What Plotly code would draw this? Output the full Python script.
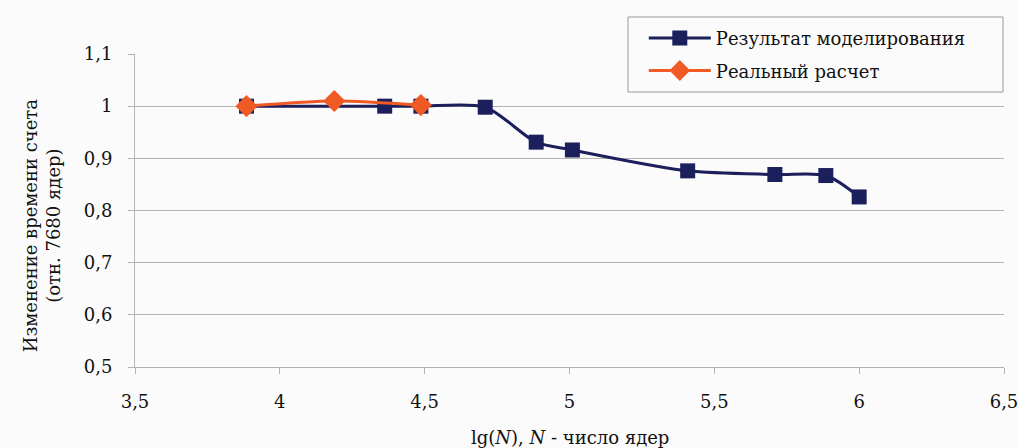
import plotly.graph_objects as go

# Data
model_x = [3.885, 4.362, 4.487, 4.709, 4.885, 5.010, 5.408, 5.709, 5.885, 6.000]
model_y = [1.000, 1.000, 1.000, 0.998, 0.931, 0.916, 0.876, 0.869, 0.867, 0.826]
real_x = [3.885, 4.188, 4.487]
real_y = [1.000, 1.010, 1.002]

model_name = "Результат моделирования"
real_name = "Реальный расчет"
x_title = "lg(<i>N</i>), <i>N</i> - число ядер"
y_title = "Изменение времени счета<br>(отн. 7680 ядер)"

navy = "#1b1f5c"
orange = "#f05a24"
grid = "#b3b3b3"
bg = "#fbfbfb"
font_family = "DejaVu Serif"

fig = go.Figure()
fig.add_trace(go.Scatter(
    x=model_x, y=model_y, name=model_name, mode="lines+markers",
    line=dict(color=navy, width=3, shape="spline", smoothing=0.8),
    marker=dict(symbol="square", size=15, color=navy),
    legendgroup="a",
))
fig.add_trace(go.Scatter(
    x=real_x, y=real_y, name=real_name, mode="lines+markers",
    line=dict(color=orange, width=3, shape="spline", smoothing=0.8),
    marker=dict(symbol="diamond", size=17, color=orange),
    legendgroup="b",
))

fig.update_layout(
    width=1019, height=448,
    margin=dict(l=135, r=15, t=54, b=81, autoexpand=False),
    paper_bgcolor=bg,
    plot_bgcolor=bg,
    separators=", ",
    font=dict(family=font_family, size=18, color="#111111"),
    showlegend=True,
    legend=dict(
        x=0.5855, y=1.109, xanchor="left", yanchor="top",
        bgcolor="rgba(0,0,0,0)", borderwidth=0,
        font=dict(family=font_family, size=18, color="#111111"),
        tracegroupgap=6, itemwidth=62,
    ),
    shapes=[
        dict(type="rect", xref="paper", yref="paper",
             x0=(628 - 135) / 869, x1=(1003 - 135) / 869,
             y0=(367 - 92) / 313, y1=(367 - 17) / 313,
             line=dict(color="#999999", width=1), fillcolor=bg, layer="above"),
    ],
    xaxis=dict(
        range=[3.5, 6.5], dtick=0.5, tick0=3.5, automargin=False,
        showgrid=False, zeroline=False,
        showline=True, linecolor=grid, linewidth=1,
        ticks="outside", ticklen=6, tickcolor=grid,
        ticklabelstandoff=12, ticklabeloverflow="allow",
        tickfont=dict(family=font_family, size=18),
    ),
    yaxis=dict(
        range=[0.5, 1.1], dtick=0.1, tick0=0.5, automargin=False,
        showgrid=True, gridcolor=grid, gridwidth=1, zeroline=False,
        showline=True, linecolor=grid, linewidth=1,
        ticks="outside", ticklen=6, tickcolor=grid,
        ticklabelstandoff=12,
        tickfont=dict(family=font_family, size=18),
    ),
    annotations=[
        dict(text=x_title, xref="paper", yref="paper", x=0.5, y=-0.224,
             xanchor="center", yanchor="middle", showarrow=False,
             font=dict(family=font_family, size=18, color="#111111")),
        dict(text=y_title, xref="paper", yref="paper", x=-0.107, y=0.45,
             xanchor="center", yanchor="middle", showarrow=False, textangle=-90,
             font=dict(family=font_family, size=18, color="#111111")),
    ],
)

fig.write_html("out.html")
